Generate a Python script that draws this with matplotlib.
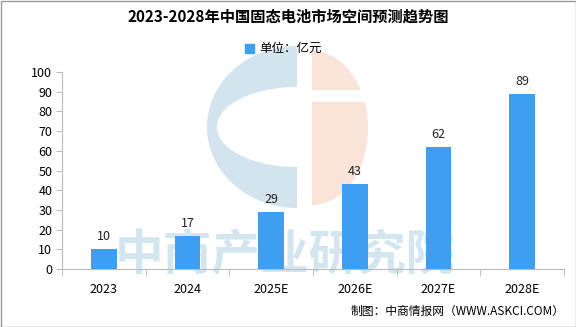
import matplotlib.pyplot as plt
from matplotlib.patches import Polygon, Rectangle
import numpy as np

plt.rcParams['font.family'] = ['Noto Sans CJK SC', 'DejaVu Sans']

years = ['2023', '2024', '2025E', '2026E', '2027E', '2028E']
values = [10, 17, 29, 43, 62, 89]
title = '2023-2028年中国固态电池市场空间预测趋势图'
unit = '单位：亿元'
source = '制图：中商情报网（WWW.ASKCI.COM）'

bar_color = '#3d9ef2'
W, H = 576, 327


def arc(cx, cy, rx, ry, t0, t1, n=60):
    t = np.radians(np.linspace(t0, t1, n))
    return np.column_stack([cx + rx * np.cos(t), cy + ry * np.sin(t)])


fig = plt.figure(figsize=(W / 100, H / 100), dpi=100)

# background layer in pixel coords (logo + watermark)
bg = fig.add_axes([0, 0, 1, 1], zorder=0)
bg.set_xlim(0, W)
bg.set_ylim(H, 0)
bg.axis('off')

# logo: left "C" ring and right half disc with a notch
ring = np.vstack([arc(297, 127, 90, 81, 90, 270), arc(297, 127, 80, 40, 270, 90)])
bg.add_patch(Polygon(ring, closed=True, color='#d3e4ee', lw=0))
half = arc(312, 128, 56, 77, -90, 90)
bg.add_patch(Polygon(half, closed=True, color='#fae3d8', lw=0))
bg.add_patch(Rectangle((311, 90), 62, 12, color='white', lw=0))

bg.text(285, 256, '中商产业研究院', fontsize=35, color='#d3e5ef',
        ha='center', va='center', fontweight='bold')

# frame
bg.add_patch(Rectangle((0.5, 0.5), W - 1, H - 1, fill=False, ec='#999999', lw=1))

ax = fig.add_axes([62 / W, 58 / H, 502 / W, 197 / H], zorder=1)
ax.patch.set_alpha(0)

x = np.arange(len(years))
ax.bar(x, values, width=0.31, color=bar_color, zorder=2)
for xi, v in zip(x, values):
    ax.text(xi, v + 3, str(v), ha='center', va='bottom', fontsize=9, color='#222222')

ax.set_xlim(-0.5, len(years) - 0.5)
ax.set_ylim(0, 100)
ax.set_yticks(np.arange(0, 101, 10))
ax.set_xticks(x)
ax.set_xticklabels(years)
ax.set_xticks(np.arange(-0.5, len(years), 1), minor=True)
ax.tick_params(axis='x', which='major', length=0, pad=10, labelsize=9)
ax.tick_params(axis='x', which='minor', length=5, color='#bbbbbb', direction='out')
ax.tick_params(axis='y', length=4, color='#bbbbbb', labelsize=9, pad=3)

for s in ['top', 'right']:
    ax.spines[s].set_visible(False)
for s in ['left', 'bottom']:
    ax.spines[s].set_color('#bbbbbb')

fig.text(0.5, 1 - 17 / H, title, ha='center', va='center', fontsize=11, fontweight='bold')
fig.add_artist(Rectangle((245 / W, 1 - 53 / H), 9 / W, 9 / H, color=bar_color,
                         transform=fig.transFigure))
fig.text(259 / W, 1 - 48 / H, unit, ha='left', va='center', fontsize=9)
fig.text(565 / W, 1 - 311 / H, source, ha='right', va='center', fontsize=8.5)

fig.savefig('out.png', dpi=100)
